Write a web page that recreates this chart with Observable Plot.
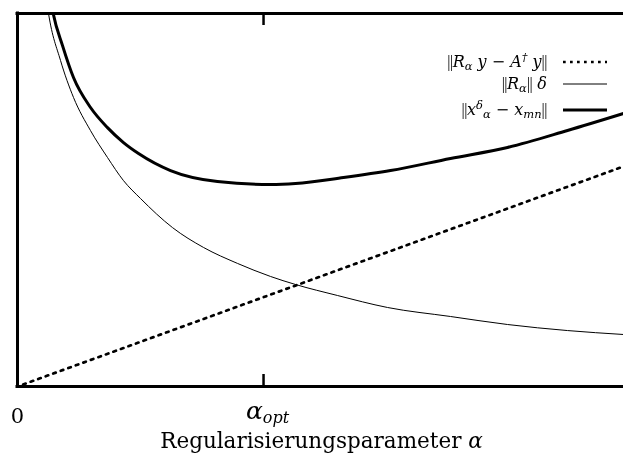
<!DOCTYPE html>
<html><head><meta charset="utf-8">
<script src="https://cdn.jsdelivr.net/npm/d3@7"></script>
<script src="https://cdn.jsdelivr.net/npm/@observablehq/plot@0.6"></script>
<style>
body{margin:0;background:#fff}
#chart svg{display:block;font-family:"DejaVu Serif",serif;will-change:transform;-webkit-font-smoothing:antialiased}
</style>
</head><body><div id="chart"></div>
<script>
// Regularization parameter positions (0..1) and error curves (arbitrary units)
const alphaOpt = 0.406;

const approxAlpha = [0, 1];
const approxErr   = [0, 0.59];

const dataAlpha = [0.0446, 0.0512, 0.071, 0.0924, 0.1205, 0.1485, 0.1749, 0.203, 0.2558, 0.307, 0.363, 0.4175, 0.4587, 0.528, 0.6106, 0.7145, 0.8086, 0.9076, 1.0];
const dataErr   = [1.075, 1.0, 0.874, 0.775, 0.686, 0.614, 0.552, 0.504, 0.426, 0.3727, 0.330, 0.295, 0.2735, 0.244, 0.2118, 0.1877, 0.1662, 0.150, 0.1394];

const totalAlpha = [0.051, 0.0589, 0.0743, 0.0924, 0.1205, 0.1485, 0.1749, 0.1997, 0.2525, 0.330, 0.4175, 0.4587, 0.538, 0.6155, 0.7145, 0.8086, 0.9076, 1.0];
const totalErr   = [1.075, 1.0, 0.914, 0.8284, 0.748, 0.694, 0.654, 0.6247, 0.579, 0.5496, 0.5416, 0.5442, 0.5603, 0.579, 0.6113, 0.6408, 0.6863, 0.7319];

const tickValues = [0, alphaOpt];
const tickLabels = ["0", "α_opt"];
const xLabel = "Regularisierungsparameter α";

const toRows = (xs, ys) => xs.map((x, i) => ({x, y: ys[i]}));
const approx = toRows(approxAlpha, approxErr);
const data = toRows(dataAlpha, dataErr);
const total = toRows(totalAlpha, totalErr);
const ticks = tickValues.map((x, i) => ({x, label: tickLabels[i]}));

const chart = Plot.plot({
  width: 623, height: 453,
  marginTop: 13, marginLeft: 17, marginRight: 0, marginBottom: 67,
  x: {domain: [0, 1], axis: null},
  y: {domain: [0, 1], axis: null},
  style: {background: "white"},
  marks: [
    Plot.line(approx, {x: "x", y: "y", stroke: "black", strokeWidth: 2.7, strokeDasharray: "2.7,5.3", strokeDashoffset: -6, clip: true}),
    Plot.line(data, {x: "x", y: "y", stroke: "black", strokeWidth: 1, curve: "monotone-x", clip: true}),
    Plot.line(total, {x: "x", y: "y", stroke: "black", strokeWidth: 3, curve: "monotone-x", clip: true}),
    Plot.ruleX([0], {stroke: "black", strokeWidth: 3, strokeLinecap: "square"}),
    Plot.ruleY([0, 1], {stroke: "black", strokeWidth: 3, strokeLinecap: "square"}),
    Plot.ruleX([alphaOpt], {stroke: "black", strokeWidth: 2.5, insetBottom: 361}),
    Plot.ruleX([alphaOpt], {stroke: "black", strokeWidth: 2.5, insetTop: 361}),
    Plot.text(ticks, {x: "x", text: "label", frameAnchor: "bottom", dy: 36, fontSize: 21, lineAnchor: "bottom", className: "ticklab"}),
    Plot.text([xLabel], {frameAnchor: "bottom", dy: 61, dx: 1, fontSize: 21.5, lineAnchor: "bottom", className: "xlab"})
  ]
});
document.getElementById("chart").appendChild(chart);

const svg = d3.select(chart);
// render α_opt with an italic subscript
svg.selectAll(".ticklab text").each(function() {
  const t = d3.select(this);
  if (t.text() === "α_opt") {
    t.text(null);
    t.attr("dx", 4).attr("dy", -4);
    t.append("tspan").attr("font-style", "italic").attr("font-size", 25).text("α");
    t.append("tspan").attr("font-style", "italic").attr("font-size", 16).attr("dy", 4).text("opt");
  }
});
svg.selectAll(".xlab text").each(function() {
  const t = d3.select(this);
  const s = t.text();
  t.text(null);
  t.append("tspan").text(s.slice(0, -1));
  t.append("tspan").attr("font-style", "italic").text(s.slice(-1));
});

// Legend (inside top-right corner)
const legend = svg.append("g").attr("font-size", 16).attr("text-anchor", "end");
const rows = [
  {y: 62, dash: "2.7,4.3", w: 2.7, parts: [["||","n"],["R","i"],["α","sub"],[" y","i"],[" − ",""],["A","i"],["†","sup"],[" y","i"],["||","n"]]},
  {y: 84, dash: null, w: 1, parts: [["||","n"],["R","i"],["α","sub"],["||","n"],[" δ","i"]]},
  {y: 110, dash: null, w: 3, parts: [["||","n"],["x","i"],["δ","sup"],["α","sub"],[" − ",""],["x","i"],["mn","sub"],["||","n"]]}
];
rows.forEach((r) => {
  const t = legend.append("text").attr("x", 547).attr("y", r.y + 5);
  let shift = 0;
  for (const [s, k] of r.parts) {
    const sp = t.append("tspan").text(s);
    if (k === "n") sp.attr("font-family", "Liberation Serif").attr("letter-spacing", -0.5);
    else if (k !== "") sp.attr("font-style", "italic");
    let target = 0, fs = null;
    if (k === "sub") { target = 3; fs = 11.5; }
    if (k === "sup") { target = -6; fs = 11.5; }
    if (fs) sp.attr("font-size", fs);
    sp.attr("dy", target - shift);
    shift = target;
  }
  const ln = legend.append("line").attr("x1", 563).attr("x2", 607).attr("y1", r.y).attr("y2", r.y)
    .attr("stroke", "black").attr("stroke-width", r.w);
  if (r.dash) ln.attr("stroke-dasharray", r.dash);
});
</script>
</body></html>
